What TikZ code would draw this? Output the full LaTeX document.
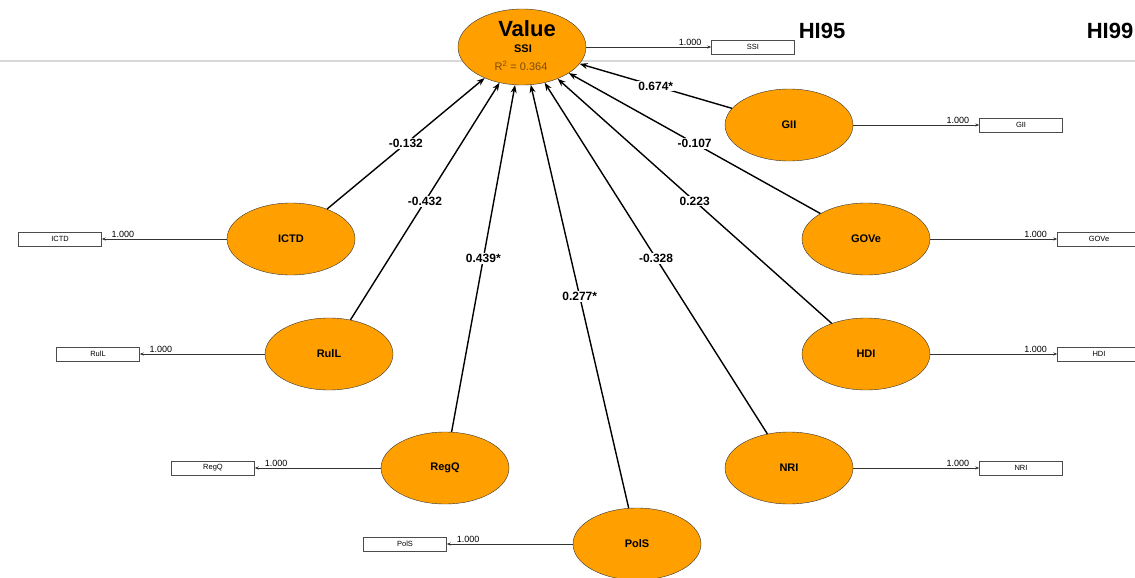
\documentclass[tikz,border=0pt]{standalone}
\usepackage{fontspec}
\setmainfont{Liberation Sans}
\definecolor{PlsOrange}{RGB}{255,160,0}
\definecolor{PlsBrown}{RGB}{125,75,10}
\usetikzlibrary{
    shapes.geometric,
    arrows.meta,
    positioning,
}

\begin{document}
\begin{tikzpicture}[x=1pt, y=-1pt,
    lv/.style={ellipse, draw=black!80, fill=PlsOrange, minimum width=128pt, minimum height=72pt, inner sep=0pt, font=\fontsize{11}{13}\selectfont\bfseries},
    mv/.style={rectangle, draw=black!70, minimum width=83pt, minimum height=14pt, inner sep=0pt, font=\fontsize{7.5}{9}\selectfont},
    beta/.style={line width=1.4pt, -{Stealth[length=8pt, width=6pt]}},
    betalbl/.style={fill=white, inner sep=1pt, font=\fontsize{12}{14}\selectfont\bfseries},
    loading/.style={line width=0.8pt, draw=black!80, -{Stealth[length=4pt, width=3pt]}},
    loadlbl/.style={above, inner sep=1.5pt, pos=0.83, font=\fontsize{9}{10}\selectfont},
    head/.style={font=\fontsize{22}{24}\selectfont\bfseries}
]
    \useasboundingbox (0,0) rectangle (1135,578);
    \coordinate (rulel) at (0,61);
    \coordinate (ruler) at (1135,61);
    \draw[gray!30, line width=2pt] (rulel) -- (ruler);

    \node[head] (hi95) at (822,31) {HI95};
    \node[head] (hi99) at (1110,31) {HI99};

    \node[lv, minimum height=76pt] (value) at (522,47) {};
    \node[font=\fontsize{22}{24}\selectfont\bfseries] (valname) at (527,29) {Value};
    \node[font=\fontsize{11}{12}\selectfont\bfseries] (valssi) at (523,49) {SSI};
    \node[font=\fontsize{11}{12}\selectfont, text=PlsBrown] (valr2) at (521,66) {R\textsuperscript{2} = 0.364};

    \node[lv] (gii)  at (789,125) {GII};
    \node[lv] (gove) at (866,239) {GOVe};
    \node[lv] (hdi)  at (866,354) {HDI};
    \node[lv] (nri)  at (789,468) {NRI};
    \node[lv] (ictd) at (291,239) {ICTD};
    \node[lv] (rull) at (329,354) {RulL};
    \node[lv] (regq) at (445,468) {RegQ};
    \node[lv] (pols) at (637,544) {PolS};

    \node[mv] (ssibox)  at (753,47)   {SSI};
    \node[mv] (giibox)  at (1021,125) {GII};
    \node[mv] (govebox) at (1099,239) {GOVe};
    \node[mv] (hdibox)  at (1099,354) {HDI};
    \node[mv] (nribox)  at (1021,468) {NRI};
    \node[mv] (ictdbox) at (60,239)   {ICTD};
    \node[mv] (rullbox) at (98,354)   {RulL};
    \node[mv] (regqbox) at (213,468)  {RegQ};
    \node[mv] (polsbox) at (405,544)  {PolS};

    \draw[beta] (ictd) -- node[betalbl] {-0.132} (value);
    \draw[beta] (rull) -- node[betalbl] {-0.432} (value);
    \draw[beta] (regq) -- node[betalbl] {0.439*} (value);
    \draw[beta] (pols) -- node[betalbl] {0.277*} (value);
    \draw[beta] (nri)  -- node[betalbl] {-0.328} (value);
    \draw[beta] (hdi)  -- node[betalbl] {0.223} (value);
    \draw[beta] (gove) -- node[betalbl] {-0.107} (value);
    \draw[beta] (gii)  -- node[betalbl] {0.674*} (value);

    \draw[loading] (value) -- node[loadlbl] {1.000} (ssibox);
    \draw[loading] (gii)   -- node[loadlbl] {1.000} (giibox);
    \draw[loading] (gove)  -- node[loadlbl] {1.000} (govebox);
    \draw[loading] (hdi)   -- node[loadlbl] {1.000} (hdibox);
    \draw[loading] (nri)   -- node[loadlbl] {1.000} (nribox);
    \draw[loading] (ictd)  -- node[loadlbl] {1.000} (ictdbox);
    \draw[loading] (rull)  -- node[loadlbl] {1.000} (rullbox);
    \draw[loading] (regq)  -- node[loadlbl] {1.000} (regqbox);
    \draw[loading] (pols)  -- node[loadlbl] {1.000} (polsbox);
\end{tikzpicture}
\end{document}
